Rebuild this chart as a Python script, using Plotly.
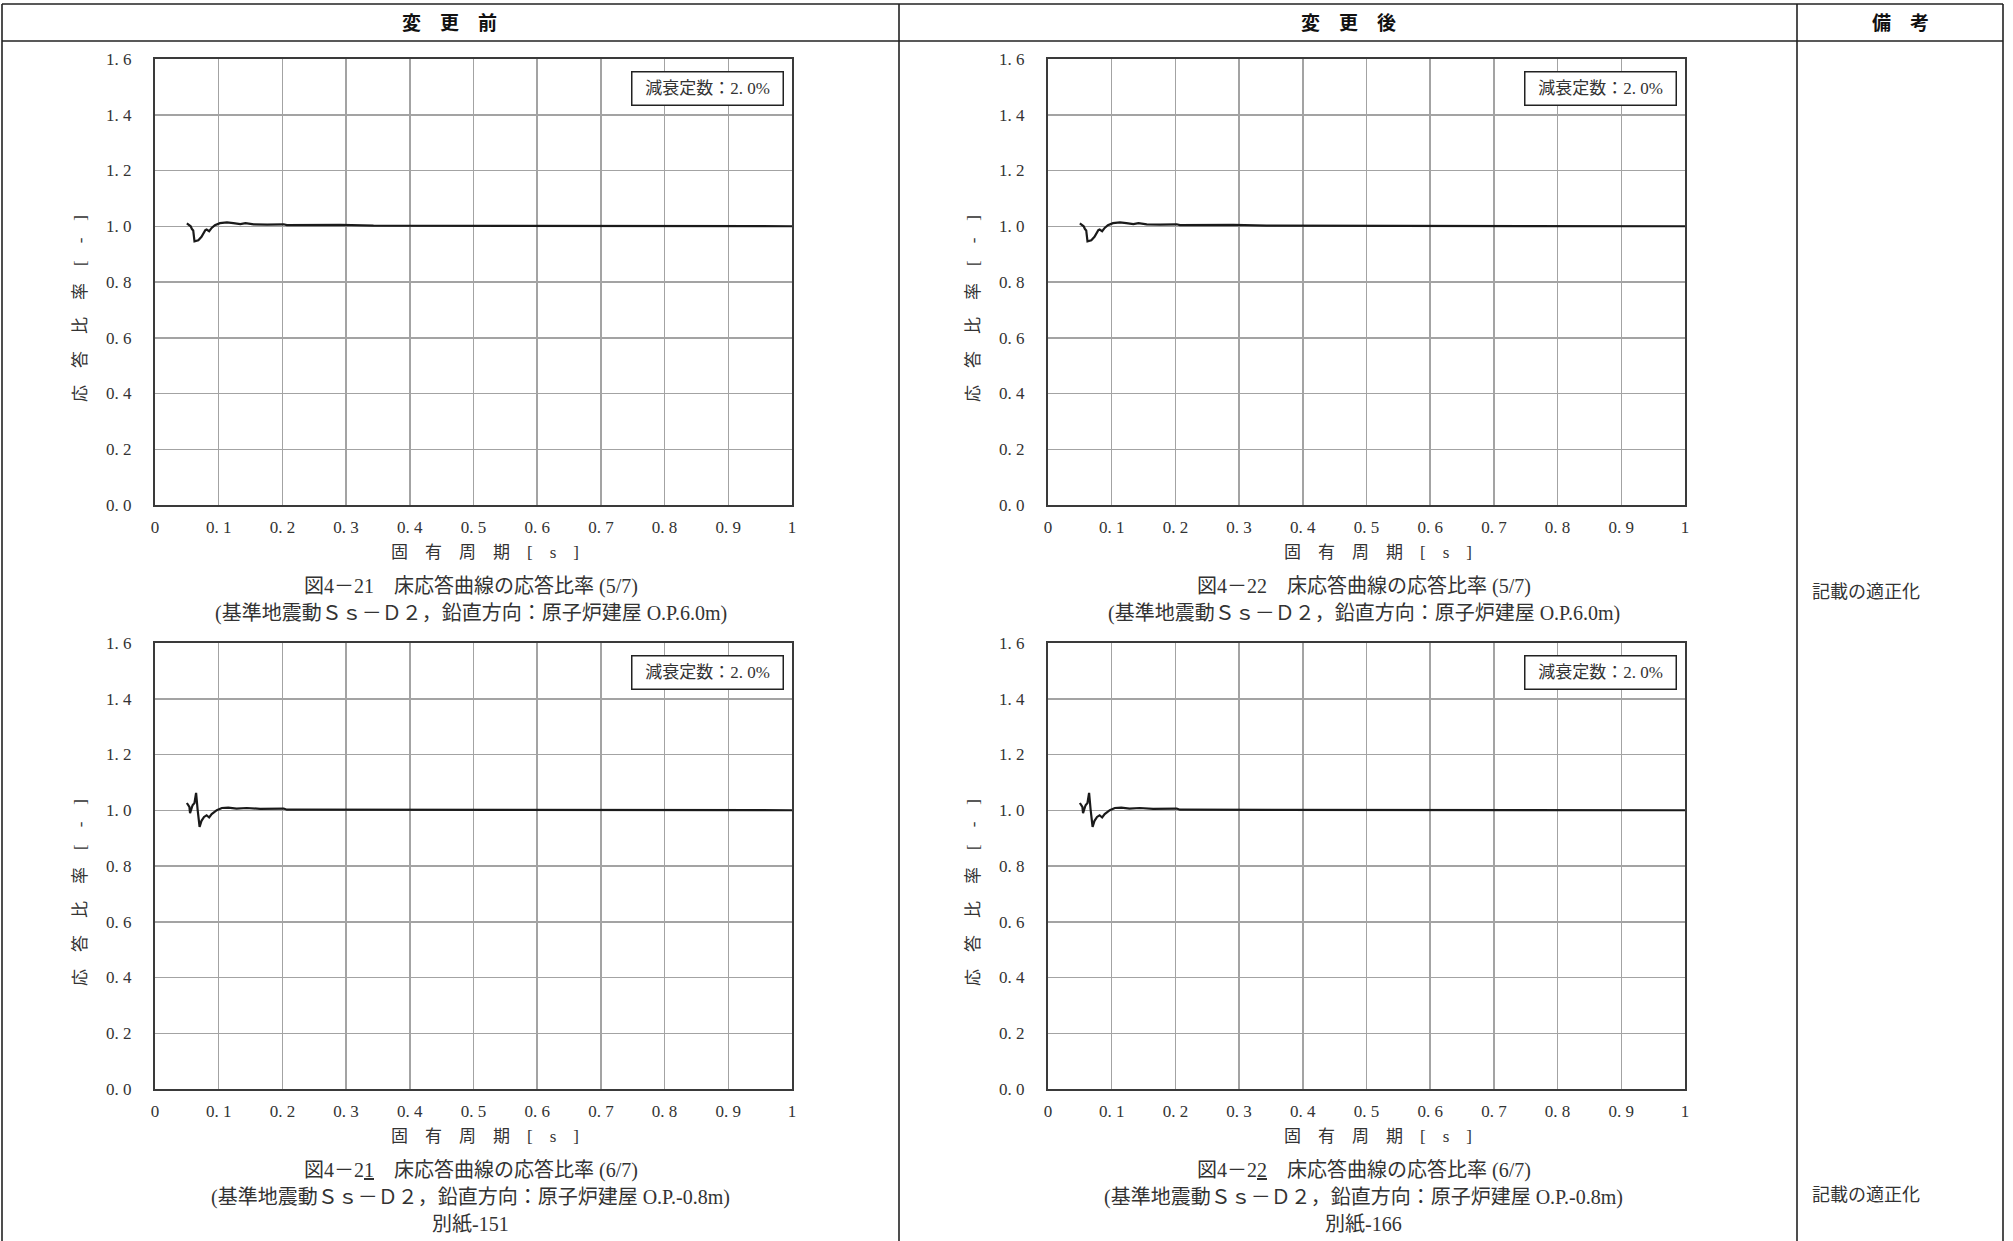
import plotly.graph_objects as go

W, H = 2013, 1241

# ---------------- data ----------------
period_57 = [0.050, 0.056, 0.058, 0.060, 0.062, 0.068, 0.073, 0.079, 0.081, 0.085,
             0.089, 0.094, 0.102, 0.113, 0.123, 0.134, 0.142, 0.155, 0.176, 0.202,
             0.207, 0.249, 0.291, 0.343, 0.400, 0.460, 0.520, 0.600, 0.700, 0.800,
             0.900, 1.000]
ratio_57 = [1.010, 1.000, 0.990, 0.985, 0.946, 0.950, 0.962, 0.986, 0.988, 0.982,
            0.994, 1.004, 1.011, 1.014, 1.011, 1.008, 1.011, 1.007, 1.006, 1.007,
            1.004, 1.004, 1.005, 1.002, 1.002, 1.002, 1.001, 1.000, 1.000, 1.000,
            1.000, 1.000]

period_67 = [0.050, 0.054, 0.055, 0.059, 0.062, 0.0645, 0.067, 0.070, 0.073, 0.077,
             0.081, 0.085, 0.089, 0.097, 0.105, 0.115, 0.128, 0.144, 0.165, 0.202,
             0.207, 0.291, 0.369, 0.450, 0.550, 0.650, 0.750, 0.850, 1.000]
ratio_67 = [1.026, 1.012, 0.990, 1.018, 1.026, 1.062, 1.000, 0.940, 0.962, 0.976,
            0.982, 0.974, 0.986, 1.000, 1.008, 1.0095, 1.006, 1.008, 1.005, 1.006,
            1.002, 1.002, 1.001, 1.001, 1.000, 1.000, 1.000, 1.000, 1.000]

x_tickvals = [0, 0.1, 0.2, 0.3, 0.4, 0.5, 0.6, 0.7, 0.8, 0.9, 1.0]
x_ticktext = ["0", "0. 1", "0. 2", "0. 3", "0. 4", "0. 5", "0. 6", "0. 7", "0. 8", "0. 9", "1"]
y_tickvals = [0, 0.2, 0.4, 0.6, 0.8, 1.0, 1.2, 1.4, 1.6]
y_ticktext = ["0. 0", "0. 2", "0. 4", "0. 6", "0. 8", "1. 0", "1. 2", "1. 4", "1. 6"]

column_headers = ["変　更　前", "変　更　後", "備　考"]
x_title = "固　有　周　期　[　s　]"
y_title = "応　答　比　率　[　-　]"
damping_label = "減衰定数：2. 0%"
remark = "記載の適正化"

captions = {
    "TL": ["図4－21　床応答曲線の応答比率 (5/7)",
           "(基準地震動Ｓｓ－Ｄ２，鉛直方向：原子炉建屋 O.P.6.0m)"],
    "TR": ["図4－22　床応答曲線の応答比率 (5/7)",
           "(基準地震動Ｓｓ－Ｄ２，鉛直方向：原子炉建屋 O.P.6.0m)"],
    "BL": ["図4－2<u>1</u>　床応答曲線の応答比率 (6/7)",
           "(基準地震動Ｓｓ－Ｄ２，鉛直方向：原子炉建屋 O.P.-0.8m)",
           "別紙-151"],
    "BR": ["図4－2<u>2</u>　床応答曲線の応答比率 (6/7)",
           "(基準地震動Ｓｓ－Ｄ２，鉛直方向：原子炉建屋 O.P.-0.8m)",
           "別紙-166"],
}

# ---------------- layout helpers ----------------
FONT = "Liberation Serif, Noto Sans CJK JP, serif"
CJK = "Noto Sans CJK JP, sans-serif"
TXT = "#333333"


def px(x):
    return x / W


def py(y):
    return 1 - y / H


PLOT_W, PLOT_H = 637, 446
panels = [
    ("TL", 155, 59, period_57, ratio_57),
    ("TR", 1048, 59, period_57, ratio_57),
    ("BL", 155, 643, period_67, ratio_67),
    ("BR", 1048, 643, period_67, ratio_67),
]

fig = go.Figure()
annotations = []
shapes = []
layout_axes = {}

for i, (key, left, top, xs, ys) in enumerate(panels, start=1):
    sfx = "" if i == 1 else str(i)
    fig.add_trace(go.Scatter(
        x=xs, y=ys, mode="lines", xaxis="x" + sfx, yaxis="y" + sfx,
        line=dict(color="#1a1a1a", width=2.2), showlegend=False, hoverinfo="skip"))
    axis_common = dict(
        showgrid=True, gridcolor="#a3a3a3", gridwidth=1.5, zeroline=False,
        showline=True, linecolor="#3a3a3a", linewidth=2, mirror=True, ticks="",
        automargin=False,
        tickfont=dict(family=FONT, size=17, color=TXT),
    )
    layout_axes["xaxis" + sfx] = dict(
        axis_common, domain=[px(left), px(left + PLOT_W)], range=[0, 1],
        anchor="y" + sfx, tickvals=x_tickvals, ticktext=x_ticktext,
        ticklabelstandoff=6)
    layout_axes["yaxis" + sfx] = dict(
        axis_common, domain=[py(top + PLOT_H), py(top)], range=[0, 1.6],
        anchor="x" + sfx, tickvals=y_tickvals, ticktext=y_ticktext,
        ticklabelstandoff=18)

    cx = left + PLOT_W / 2
    # damping box
    annotations.append(dict(
        xref="paper", yref="paper", x=px(left + PLOT_W - 8), y=py(top + 12),
        xanchor="right", yanchor="top", text=damping_label, showarrow=False,
        font=dict(family=FONT, size=17, color=TXT), bgcolor="white",
        bordercolor="#222222", borderwidth=1.5, borderpad=3, width=144, height=26))
    # y title
    annotations.append(dict(
        xref="paper", yref="paper", x=px(left - 75), y=py(top + PLOT_H / 2 + 27),
        xanchor="center", yanchor="middle", text=y_title, textangle=-90,
        showarrow=False, font=dict(family=FONT, size=17, color=TXT)))
    # x title
    annotations.append(dict(
        xref="paper", yref="paper", x=px(cx + 11), y=py(top + PLOT_H + 47),
        xanchor="center", yanchor="middle", text=x_title, showarrow=False,
        font=dict(family=FONT, size=17, color=TXT)))
    # captions
    for j, line in enumerate(captions[key]):
        annotations.append(dict(
            xref="paper", yref="paper", x=px(cx - 3), y=py(top + PLOT_H + 81 + j * 27),
            xanchor="center", yanchor="middle", text=line, showarrow=False,
            font=dict(family=FONT, size=20, color=TXT)))

# table headers
for text, xc in zip(column_headers, [449, 1348, 1900]):
    annotations.append(dict(
        xref="paper", yref="paper", x=px(xc), y=py(22), xanchor="center",
        yanchor="middle", text="<b>" + text + "</b>", showarrow=False,
        font=dict(family=CJK, size=19, color="#111111")))

# remarks
for yc in [592, 1195]:
    annotations.append(dict(
        xref="paper", yref="paper", x=px(1810), y=py(yc), xanchor="left",
        yanchor="middle", text=remark, showarrow=False,
        font=dict(family=FONT, size=18, color=TXT)))

# table lines
line_style = dict(color="#222222", width=1.6)
for (x0, y0, x1, y1) in [(2, 4, 2003, 4), (2, 41, 2003, 41), (2, 4, 2, H),
                         (899, 4, 899, H), (1797, 4, 1797, H), (2003, 4, 2003, H)]:
    shapes.append(dict(type="line", xref="paper", yref="paper",
                       x0=px(x0), y0=py(y0), x1=px(x1), y1=py(y1), line=line_style))

fig.update_layout(
    width=W, height=H, margin=dict(l=0, r=0, t=0, b=0, autoexpand=False),
    paper_bgcolor="white", plot_bgcolor="white",
    annotations=annotations, shapes=shapes, **layout_axes)

fig.write_html(
    "out.html",
    config={"displayModeBar": False, "staticPlot": True},
    post_script=(
        "var gd=document.getElementById('{plot_id}');"
        "gd.style.position='fixed';gd.style.left='0px';gd.style.top='0px';"
        "document.body.style.margin='0';document.body.style.padding='0';"
        "document.documentElement.style.overflow='hidden';"
        "document.body.style.overflow='hidden';"))
